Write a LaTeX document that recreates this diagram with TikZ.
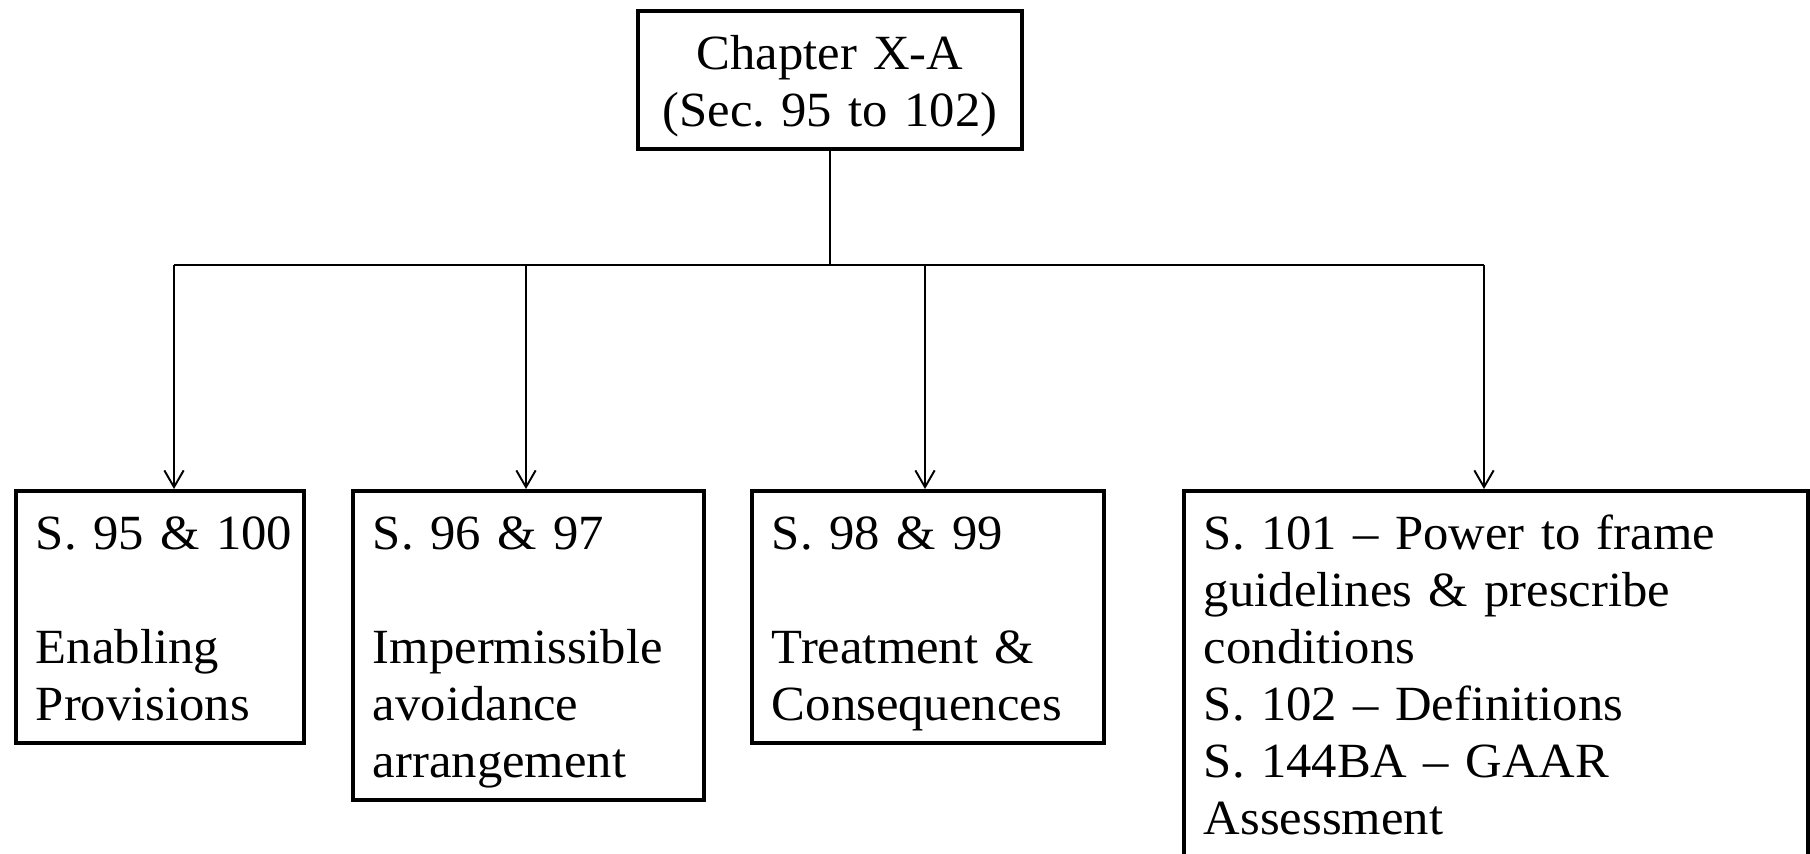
\documentclass[tikz,border=0pt]{standalone}
\usepackage{fontspec}
\setmainfont{Liberation Serif}[FakeStretch=1.03]
\usetikzlibrary{arrows.meta}
\frenchspacing
\begin{document}
\begin{tikzpicture}[x=0.02cm,y=-0.02cm,
  >={Straight Barb[length=9.5pt,width=11pt]},
  secbox/.style={draw,line width=2.2pt,anchor=north west,align=left,
    inner xsep=0.4cm,inner ysep=0.1cm,
    font=\fontsize{28pt}{1.14cm}\selectfont,
    execute at begin node=\rule{0pt}{1.08cm},
    execute at end node=\strut},
  link/.style={line width=1.1pt}]
\useasboundingbox (0,0) rectangle (1810,853);

\node[secbox,anchor=north,align=center,text width=6.88cm] (chap) at (830,9)
  {Chapter X-A\\(Sec.~95 to~102)};

\node[secbox,text width=4.96cm] (s95) at (14,489)
  {S.~95~\&~100\\[\baselineskip]Enabling\\Provisions};
\node[secbox,text width=6.22cm] (s96) at (351,489)
  {S.~96~\&~97\\[\baselineskip]Impermissible\\avoidance\\arrangement};
\node[secbox,text width=6.24cm] (s98) at (750,489)
  {S.~98~\&~99\\[\baselineskip]Treatment \&\\Consequences};
\node[secbox,text width=11.68cm] (s101) at (1182,489)
  {S. 101 – Power to frame\\guidelines \& prescribe\\conditions\\S. 102 – Definitions\\S. 144BA – GAAR\\Assessment};

\coordinate (j1) at (174,265);
\coordinate (j2) at (526,265);
\coordinate (j3) at (925,265);
\coordinate (j4) at (1484,265);
\draw[link] (chap.south) -- (chap.south |- j1);
\draw[link] (j1) -- (j4);
\draw[link,->] (j1) -- (j1 |- s95.north);
\draw[link,->] (j2) -- (j2 |- s96.north);
\draw[link,->] (j3) -- (j3 |- s98.north);
\draw[link,->] (j4) -- (j4 |- s101.north);
\end{tikzpicture}
\end{document}
